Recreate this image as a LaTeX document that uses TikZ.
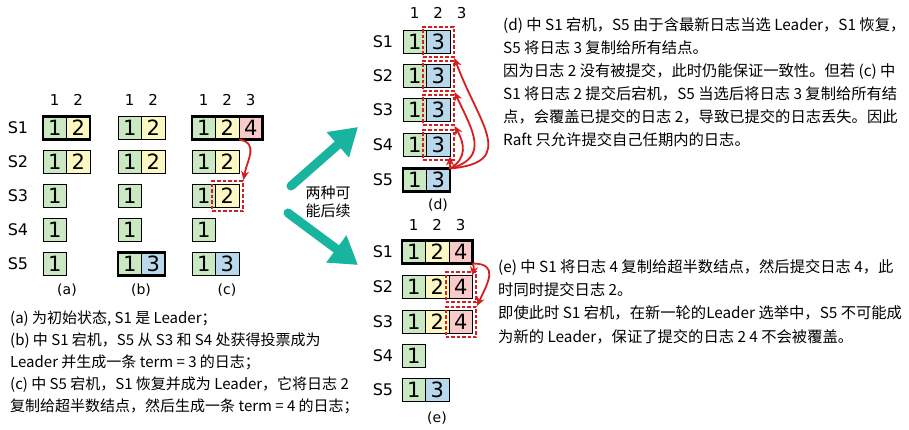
\documentclass[tikz,border=0pt]{standalone}
\usepackage{fontspec}
\setmainfont{DejaVu Sans}
\newfontfamily\cjk{Noto Sans CJK SC}
\usetikzlibrary{arrows.meta,positioning,fit}
\definecolor{tgreen}{RGB}{202,232,194}
\definecolor{tyellow}{RGB}{252,248,196}
\definecolor{tpink}{RGB}{248,202,202}
\definecolor{tblue}{RGB}{186,216,236}
\definecolor{cred}{RGB}{214,30,30}
\definecolor{cteal}{RGB}{24,180,160}

\begin{document}
\begin{tikzpicture}[x=1pt,y=1pt,>=Latex,
  cell/.style={draw,line width=0.9pt,minimum width=23.5pt,minimum height=23pt,inner sep=0pt,outer sep=0pt,font=\fontsize{21}{21}\selectfont},
  t1/.style={cell,fill=tgreen},t2/.style={cell,fill=tyellow},t3/.style={cell,fill=tblue},t4/.style={cell,fill=tpink},
  srv/.style={font=\fontsize{16}{16}\selectfont},
  idx/.style={font=\fontsize{15}{15}\selectfont},
  panel/.style={font=\fontsize{14}{14}\selectfont},
  lead/.style={line width=2.4pt},
  hl/.style={draw=cred,line width=2pt,dash pattern=on 3.5pt off 2pt,inner sep=3.5pt},
  redarr/.style={draw=cred,line width=1.8pt,-{Stealth[length=9pt,width=8pt]}},
  nextstep/.style={draw=cteal,line width=9pt,line cap=round,-{Triangle[length=27pt,width=32pt]}},
  note/.style={font=\cjk\fontsize{15}{22}\selectfont,align=left,anchor=north west,inner sep=0pt}]
\useasboundingbox (0,0) rectangle (909,429);

% (a) (b) (c)
\node[idx] (ha1) at (54.75,329) {1};\node[idx] (ha2) at (78.25,329) {2};
\node[idx] (hb1) at (129.75,329) {1};\node[idx] (hb2) at (153.25,329) {2};
\node[idx] (hc1) at (203.75,329) {1};\node[idx] (hc2) at (227.25,329) {2};\node[idx] (hc3) at (250.75,329) {3};
\node[srv] (s1) at (18,301) {S1};\node[srv] (s2) at (18,267) {S2};\node[srv] (s3) at (18,233) {S3};
\node[srv] (s4) at (18,199) {S4};\node[srv] (s5) at (18,165) {S5};

\node[t1] (a11) at (54.75,301) {1};\node[t2,right=0pt of a11] (a12) {2};
\node[t1] (a21) at (54.75,267) {1};\node[t2,right=0pt of a21] (a22) {2};
\node[t1] (a31) at (54.75,233) {1};
\node[t1] (a41) at (54.75,199) {1};
\node[t1] (a51) at (54.75,165) {1};
\draw[lead] (a11.north west) rectangle (a12.south east);

\node[t1] (b11) at (129.75,301) {1};\node[t2,right=0pt of b11] (b12) {2};
\node[t1] (b21) at (129.75,267) {1};\node[t2,right=0pt of b21] (b22) {2};
\node[t1] (b31) at (129.75,233) {1};
\node[t1] (b41) at (129.75,199) {1};
\node[t1] (b51) at (129.75,165) {1};\node[t3,right=0pt of b51] (b52) {3};
\draw[lead] (b51.north west) rectangle (b52.south east);

\node[t1] (c11) at (203.75,301) {1};\node[t2,right=0pt of c11] (c12) {2};\node[t4,right=0pt of c12] (c13) {4};
\node[t1] (c21) at (203.75,267) {1};\node[t2,right=0pt of c21] (c22) {2};
\node[t1] (c31) at (203.75,233) {1};\node[t2,right=0pt of c31] (c32) {2};
\node[t1] (c41) at (203.75,199) {1};
\node[t1] (c51) at (203.75,165) {1};\node[t3,right=0pt of c51] (c52) {3};
\draw[lead] (c11.north west) rectangle (c13.south east);
\node[hl,fit=(c32)] (c32h) {};
\draw[redarr] (c13.south west) to[out=-10,in=80,looseness=1.3] (c32h.north east);

\node[panel] (la) at (67,139) {(a)};\node[panel] (lb) at (141,139) {(b)};\node[panel] (lc) at (227,139) {(c)};

% two ways on
\coordinate (up0) at (291,243);\coordinate (up1) at (358,302);
\coordinate (dn0) at (288,216);\coordinate (dn1) at (358,164);
\draw[nextstep] (up0) -- (up1);\draw[nextstep] (dn0) -- (dn1);
\node[font=\cjk\fontsize{15}{18}\selectfont,align=center] (alt) at (328,227) {两种可\\能后续};

% (d)
\node[idx] (hd1) at (414.75,416) {1};\node[idx] (hd2) at (438.25,416) {2};\node[idx] (hd3) at (461.75,416) {3};
\node[srv] (ds1) at (383,387) {S1};\node[srv] (ds2) at (383,353) {S2};\node[srv] (ds3) at (383,319) {S3};
\node[srv] (ds4) at (383,284) {S4};\node[srv] (ds5) at (383,249) {S5};
\node[t1] (d11) at (414.75,387) {1};\node[t3,right=0pt of d11] (d12) {3};
\node[t1] (d21) at (414.75,353) {1};\node[t3,right=0pt of d21] (d22) {3};
\node[t1] (d31) at (414.75,319) {1};\node[t3,right=0pt of d31] (d32) {3};
\node[t1] (d41) at (414.75,284) {1};\node[t3,right=0pt of d41] (d42) {3};
\node[t1] (d51) at (414.75,249) {1};\node[t3,right=0pt of d51] (d52) {3};
\draw[lead] (d51.north west) rectangle (d52.south east);
\node[hl,fit=(d12)] (d12h) {};\node[hl,fit=(d22)] (d22h) {};\node[hl,fit=(d32)] (d32h) {};\node[hl,fit=(d42)] (d42h) {};
\draw[redarr] (d52.north east) to[out=5,in=-70,looseness=1.6] (d12h.south east);
\draw[redarr] (d52.north east) to[out=15,in=-65,looseness=1.4] (d22h.south east);
\draw[redarr] (d52.north east) to[out=30,in=-60,looseness=1.2] (d32h.south east);
\draw[redarr] (d52.north east) -- (d42.south east);
\node[panel] (ld) at (438,224) {(d)};

% (e)
\node[idx] (he1) at (413.75,204) {1};\node[idx] (he2) at (437.25,204) {2};\node[idx] (he3) at (460.75,204) {3};
\node[srv] (es1) at (383,177) {S1};\node[srv] (es2) at (383,142) {S2};\node[srv] (es3) at (383,107) {S3};
\node[srv] (es4) at (383,73) {S4};\node[srv] (es5) at (383,39) {S5};
\node[t1] (e11) at (413.75,177) {1};\node[t2,right=0pt of e11] (e12) {2};\node[t4,right=0pt of e12] (e13) {4};
\node[t1] (e21) at (413.75,142) {1};\node[t2,right=0pt of e21] (e22) {2};\node[t4,right=0pt of e22] (e23) {4};
\node[t1] (e31) at (413.75,107) {1};\node[t2,right=0pt of e31] (e32) {2};\node[t4,right=0pt of e32] (e33) {4};
\node[t1] (e41) at (413.75,73) {1};
\node[t1] (e51) at (413.75,39) {1};\node[t3,right=0pt of e51] (e52) {3};
\draw[lead] (e11.north west) rectangle (e13.south east);
\node[hl,fit=(e23)] (e23h) {};\node[hl,fit=(e33)] (e33h) {};
\draw[redarr] (e13.south east) to[out=-60,in=80] (e23.north east);
\draw[redarr] (e13.south east) to[out=0,in=65,looseness=1.6] (e33h.north east);
\node[panel] (le) at (437,11) {(e)};

% notes
\node[note] (na) at (10,118) {(a) 为初始状态, S1 是 Leader；\\(b) 中 S1 宕机，S5 从 S3 和 S4 处获得投票成为\\Leader 并生成一条 term = 3 的日志；\\(c) 中 S5 宕机，S1 恢复并成为 Leader，它将日志 2\\复制给超半数结点，然后生成一条 term = 4 的日志；};
\node[note,font=\cjk\fontsize{15.3}{23}\selectfont] (nd) at (503,412) {(d) 中 S1 宕机，S5 由于含最新日志当选 Leader，S1 恢复，\\S5 将日志 3 复制给所有结点。\\因为日志 2 没有被提交，此时仍能保证一致性。但若 (c) 中\\S1 将日志 2 提交后宕机，S5 当选后将日志 3 复制给所有结\\点，会覆盖已提交的日志 2，导致已提交的日志丢失。因此\\Raft 只允许提交自己任期内的日志。};
\node[note,font=\cjk\fontsize{15.3}{23.3}\selectfont] (ne) at (498,170) {(e) 中 S1 将日志 4 复制给超半数结点，然后提交日志 4，此\\时同时提交日志 2。\\即使此时 S1 宕机，在新一轮的Leader 选举中，S5 不可能成\\为新的 Leader，保证了提交的日志 2 4 不会被覆盖。};
\end{tikzpicture}
\end{document}
